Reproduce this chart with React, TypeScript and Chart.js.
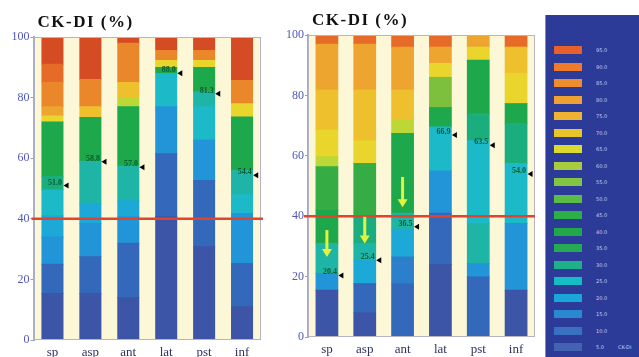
import React, { useEffect, useRef } from "react";
import { Chart, registerables } from "chart.js";

Chart.register(...registerables);

const categories = ["sp", "asp", "ant", "lat", "pst", "inf"];
const yTicks = [0, 20, 40, 60, 80, 100];
const threshold = 40;

// colour levels used inside bars (bottom = blue, top = red)
const barPalette = [
  "#3c55a6", // 0 deep blue
  "#3468bb", // 1 blue
  "#2c7fca", // 2 mid blue
  "#2295d8", // 3 light blue
  "#1ca9d8", // 4 cyan-blue
  "#1cbac8", // 5 cyan
  "#1fb5a6", // 6 teal
  "#1aae7e", // 7 teal-green
  "#1ea84c", // 8 green
  "#36ad44", // 9 green 2
  "#7cc03e", // 10 light green
  "#bcd836", // 11 yellow-green
  "#ead52c", // 12 yellow
  "#efc02e", // 13 yellow-orange
  "#eea52f", // 14 light orange
  "#eb872b", // 15 orange
  "#e66a28", // 16 orange-red
  "#d54b24", // 17 red
];

// left panel: segment tops (%) and colour levels, per category
const leftSegmentTops = [
  [15.4, 25, 34, 41, 49.5, 54, 72, 74, 77, 85, 91, 100],
  [15.4, 27.5, 38.5, 45, 59, 73.5, 77, 86, 100],
  [14, 32, 40.7, 46, 57.5, 77, 80, 85, 98, 100],
  [40.7, 61.5, 77, 88, 90, 92.3, 95.6, 100],
  [30.8, 52.7, 66, 77, 82, 90, 92.3, 95.6, 100],
  [11, 25.3, 41.8, 48, 56, 73.6, 78, 85.7, 100],
];
const leftSegmentLevels = [
  [0, 1, 3, 4, 5, 7, 8, 12, 14, 15, 16, 17],
  [0, 1, 3, 4, 6, 8, 13, 15, 17],
  [0, 1, 3, 4, 6, 8, 11, 13, 15, 17],
  [0, 1, 3, 5, 8, 12, 15, 17],
  [0, 1, 3, 5, 6, 8, 12, 15, 17],
  [0, 1, 3, 5, 6, 8, 12, 15, 17],
];

// right panel
const rightSegmentTops = [
  [15.5, 21, 31, 42, 56.4, 59.7, 68.5, 81.8, 97, 100],
  [8, 17.7, 25.4, 31, 39.8, 57.5, 65, 81.8, 97, 100],
  [17.7, 26.5, 35.4, 41, 67.4, 71.8, 81.8, 96, 100],
  [24, 41, 55, 69.6, 76, 86, 90.6, 96, 100],
  [19.9, 24.3, 37.6, 65, 74, 91.7, 96, 100],
  [15.5, 37.6, 57.5, 70.7, 77.3, 87.3, 96, 100],
];
const rightSegmentLevels = [
  [0, 3, 6, 8, 9, 11, 12, 13, 14, 16],
  [0, 1, 4, 6, 7, 9, 12, 13, 14, 16],
  [1, 2, 4, 6, 8, 11, 13, 14, 16],
  [0, 1, 3, 5, 8, 10, 12, 14, 16],
  [1, 3, 6, 5, 7, 8, 12, 14],
  [0, 3, 5, 7, 8, 12, 13, 16],
];

// black marker positions and their labels
const leftMarkers = [51, 58.8, 57, 88, 81.3, 54.4];
const leftMarkerLabels = ["51.0", "58.8", "57.0", "88.0", "81.3", "54.4"];
const rightMarkers = [20.4, 25.4, 36.5, 66.9, 63.5, 54];
const rightMarkerLabels = ["20.4", "25.4", "36.5", "66.9", "63.5", "54.0"];

// yellow downward arrows (right panel): category index, start, end
const arrowCategories = [0, 1, 2];
const arrowStarts = [35.4, 39.8, 53];
const arrowEnds = [26.5, 31, 43];

// colour legend
const legendColors = [
  "#e8602a", "#f07a2c", "#f08c30", "#f0a032", "#f0b232", "#e8c62a",
  "#dada30", "#a8cc40", "#84c444", "#5cbc48", "#2eae48", "#22a84a",
  "#26aa56", "#1eb088", "#14bcc4", "#1aa6d8", "#2888d0", "#3a70c0", "#4462b2",
];
const legendLabels = [
  "95.0", "90.0", "85.0", "80.0", "75.0", "70.0", "65.0", "60.0", "55.0", "50.0",
  "45.0", "40.0", "35.0", "30.0", "25.0", "20.0", "15.0", "10.0", "5.0",
];

const SERIF = '"Liberation Serif", "DejaVu Serif", serif';

function buildDatasets(tops: number[][], levels: number[][], barPct: number) {
  const maxN = Math.max(...tops.map((t) => t.length));
  const ds: any[] = [];
  for (let j = 0; j < maxN; j++) {
    ds.push({
      data: tops.map((t) => (j < t.length ? [j === 0 ? 0 : t[j - 1], t[j]] : null)),
      backgroundColor: levels.map((l) => (j < l.length ? barPalette[l[j]] : "rgba(0,0,0,0)")),
      borderWidth: 0,
      inflateAmount: 0.4,
      categoryPercentage: 1,
      barPercentage: barPct,
    });
  }
  return ds;
}

function makeOverlay(cfg: {
  markers: number[];
  labels: string[];
  arrows: boolean;
  lineLeftExtra: number;
  lineRightExtra: number;
  titleY: number;
}) {
  return {
    id: "overlay",
    beforeDraw(chart: any) {
      const { ctx, chartArea: a } = chart;
      ctx.save();
      ctx.fillStyle = "#fcf7d6";
      ctx.fillRect(a.left, a.top, a.right - a.left, a.bottom - a.top);
      ctx.restore();
    },
    afterDatasetsDraw(chart: any) {
      const { ctx, chartArea: a, scales } = chart;
      const y = scales.y;
      ctx.save();
      // frame
      ctx.strokeStyle = "#b4b4c4";
      ctx.lineWidth = 1;
      ctx.strokeRect(a.left + 0.5, a.top + 0.5, a.right - a.left - 1, a.bottom - a.top - 1);
      // threshold line
      const ty = y.getPixelForValue(threshold);
      ctx.strokeStyle = "#e2432c";
      ctx.lineWidth = 2.5;
      ctx.beginPath();
      ctx.moveTo(a.left - cfg.lineLeftExtra, ty);
      ctx.lineTo(a.right + cfg.lineRightExtra, ty);
      ctx.stroke();
      // markers
      const meta = chart.getDatasetMeta(0);
      cfg.markers.forEach((v, i) => {
        const bar = meta.data[i];
        if (!bar) return;
        const right = bar.x + bar.width / 2;
        const my = y.getPixelForValue(v);
        ctx.fillStyle = "#0b5a2c";
        ctx.font = `bold 8px ${SERIF}`;
        ctx.textAlign = "right";
        ctx.textBaseline = "bottom";
        ctx.fillText(cfg.labels[i], right - 1, my + 1);
        ctx.fillStyle = "#000";
        ctx.beginPath();
        ctx.moveTo(right + 0.5, my);
        ctx.lineTo(right + 5.5, my - 3);
        ctx.lineTo(right + 5.5, my + 3);
        ctx.closePath();
        ctx.fill();
      });
      // yellow arrows
      if (cfg.arrows) {
        arrowCategories.forEach((c, k) => {
          const bar = meta.data[c];
          if (!bar) return;
          const x = bar.x;
          const y0 = y.getPixelForValue(arrowStarts[k]);
          const y1 = y.getPixelForValue(arrowEnds[k]);
          ctx.fillStyle = "#e4f23c";
          ctx.fillRect(x - 1.5, y0, 3, y1 - y0 - 7);
          ctx.beginPath();
          ctx.moveTo(x - 5, y1 - 8);
          ctx.lineTo(x + 5, y1 - 8);
          ctx.lineTo(x, y1);
          ctx.closePath();
          ctx.fill();
        });
      }
      // title
      ctx.fillStyle = "#111";
      ctx.font = `bold 17px ${SERIF}`;
      try {
        (ctx as any).letterSpacing = "1.5px";
      } catch (e) {}
      ctx.textAlign = "left";
      ctx.textBaseline = "middle";
      ctx.fillText("CK-DI (%)", a.left + 4, cfg.titleY);
      ctx.restore();
    },
  };
}

function makeConfig(
  tops: number[][],
  levels: number[][],
  barPct: number,
  padding: any,
  yWidth: number,
  xHeight: number,
  overlay: any
): any {
  return {
    type: "bar",
    data: { labels: categories, datasets: buildDatasets(tops, levels, barPct) },
    plugins: [overlay],
    options: {
      responsive: false,
      animation: false,
      devicePixelRatio: 1,
      layout: { padding },
      plugins: { legend: { display: false }, tooltip: { enabled: false }, title: { display: false } },
      scales: {
        x: {
          stacked: true,
          grid: { display: false },
          border: { display: false },
          ticks: { color: "#2e3460", font: { family: SERIF, size: 13 }, padding: -3 },
          afterFit: (s: any) => {
            s.height = xHeight;
          },
        },
        y: {
          stacked: false,
          min: 0,
          max: 100,
          afterBuildTicks: (s: any) => {
            s.ticks = yTicks.map((v) => ({ value: v }));
          },
          grid: { drawOnChartArea: false, drawTicks: true, tickLength: 3, color: "#9a9ab8" },
          border: { display: true, color: "#a4a8c4", width: 2 },
          ticks: { color: "#5058b8", font: { family: SERIF, size: 12 }, padding: 1 },
          afterFit: (s: any) => {
            s.width = yWidth;
          },
        },
      },
    },
  };
}

export default function App() {
  const leftRef = useRef<HTMLCanvasElement>(null);
  const rightRef = useRef<HTMLCanvasElement>(null);

  useEffect(() => {
    const c1 = new Chart(
      leftRef.current as HTMLCanvasElement,
      makeConfig(
        leftSegmentTops,
        leftSegmentLevels,
        0.56,
        { top: 37, right: 11, bottom: 0, left: 0 },
        33.5,
        17,
        makeOverlay({
          markers: leftMarkers,
          labels: leftMarkerLabels,
          arrows: false,
          lineLeftExtra: 2,
          lineRightExtra: 2,
          titleY: 23,
        })
      )
    );
    const c2 = new Chart(
      rightRef.current as HTMLCanvasElement,
      makeConfig(
        rightSegmentTops,
        rightSegmentLevels,
        0.58,
        { top: 35, right: 9, bottom: 0, left: 0 },
        36,
        20,
        makeOverlay({
          markers: rightMarkers,
          labels: rightMarkerLabels,
          arrows: true,
          lineLeftExtra: 4,
          lineRightExtra: 0,
          titleY: 21,
        })
      )
    );
    return () => {
      c1.destroy();
      c2.destroy();
    };
  }, []);

  return (
    <div
      style={{
        position: "fixed",
        left: 0,
        top: 0,
        width: 639,
        height: 357,
        background: "#ffffff",
        overflow: "hidden",
      }}
    >
      <canvas
        ref={leftRef}
        width={272}
        height={357}
        style={{ position: "absolute", left: 0, top: 0, width: 272, height: 357 }}
      />
      <canvas
        ref={rightRef}
        width={272}
        height={357}
        style={{ position: "absolute", left: 272, top: 0, width: 272, height: 357 }}
      />
      <div
        style={{
          position: "absolute",
          left: 545,
          top: 15,
          width: 94,
          height: 342,
          background: "#2d3b98",
          borderLeft: "1px solid #8088c8",
        }}
      >
        {legendColors.map((c, i) => (
          <React.Fragment key={i}>
            <div
              style={{
                position: "absolute",
                left: 8,
                top: 31 + i * 16.5,
                width: 28,
                height: 8,
                background: c,
              }}
            />
            <div
              style={{
                position: "absolute",
                left: 50,
                top: 30 + i * 16.5,
                fontSize: 5,
                lineHeight: "10px",
                color: "#c8d0f4",
                fontFamily: "DejaVu Sans, sans-serif",
              }}
            >
              {legendLabels[i]}
            </div>
          </React.Fragment>
        ))}
        <div
          style={{
            position: "absolute",
            left: 72,
            top: 30 + 18 * 16.5,
            fontSize: 5,
            lineHeight: "10px",
            color: "#c8d0f4",
            fontFamily: "DejaVu Sans, sans-serif",
          }}
        >
          CK-DI
        </div>
      </div>
    </div>
  );
}
